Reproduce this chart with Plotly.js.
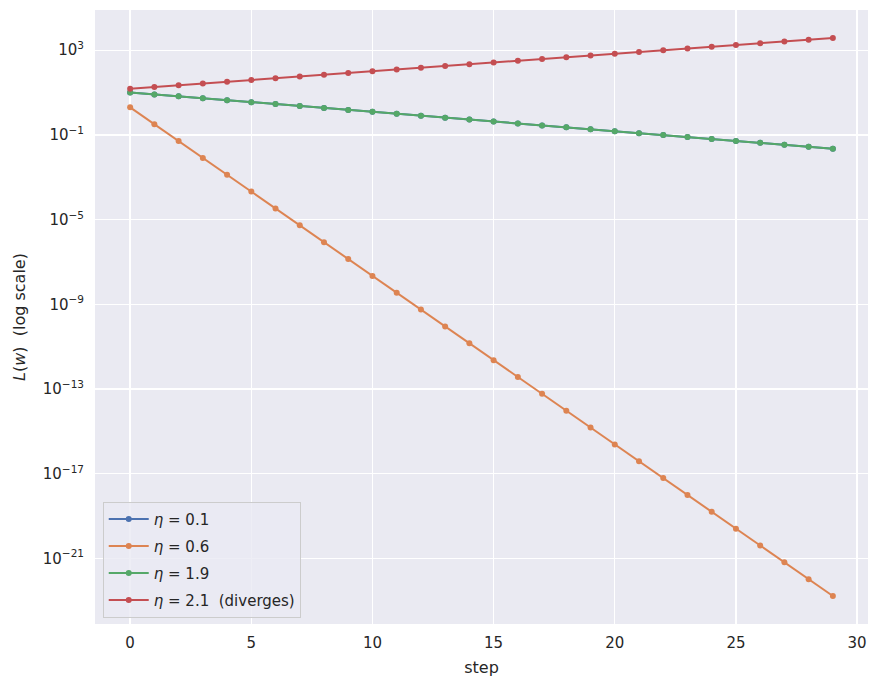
<!DOCTYPE html>
<html>
<head>
<meta charset="utf-8">
<script src="https://cdn.plot.ly/plotly-3.0.1.min.js"></script>
<style>html,body{margin:0;padding:0;background:#fff;}#chart{width:878px;height:687px;}</style>
</head>
<body>
<div id="chart"></div>
<script>
const steps = [0,1,2,3,4,5,6,7,8,9,10,11,12,13,14,15,16,17,18,19,20,21,22,23,24,25,26,27,28,29];

const lossEta01 = [10.125, 8.2013, 6.6430, 5.3808, 4.3585, 3.5304, 2.8596, 2.3163, 1.8762, 1.5197,
  1.2310, 0.99708, 0.80764, 0.65418, 0.52989, 0.42921, 0.34766, 0.28160, 0.22810, 0.18476,
  0.14966, 0.12122, 0.098190, 0.079534, 0.064422, 0.052182, 0.042267, 0.034237, 0.027732, 0.022463];

const lossEta06 = [2, 0.32, 0.0512, 0.008192, 0.00131072, 2.0972e-4, 3.3554e-5, 5.3687e-6, 8.5899e-7, 1.3744e-7,
  2.1990e-8, 3.5184e-9, 5.6295e-10, 9.0072e-11, 1.4412e-11, 2.3058e-12, 3.6893e-13, 5.9030e-14, 9.4447e-15, 1.5112e-15,
  2.4179e-16, 3.8686e-17, 6.1897e-18, 9.9035e-19, 1.5846e-19, 2.5353e-20, 4.0565e-21, 6.4904e-22, 1.0385e-22, 1.6615e-23];

const lossEta19 = [10.125, 8.2013, 6.6430, 5.3808, 4.3585, 3.5304, 2.8596, 2.3163, 1.8762, 1.5197,
  1.2310, 0.99708, 0.80764, 0.65418, 0.52989, 0.42921, 0.34766, 0.28160, 0.22810, 0.18476,
  0.14966, 0.12122, 0.098190, 0.079534, 0.064422, 0.052182, 0.042267, 0.034237, 0.027732, 0.022463];

const lossEta21 = [15.125, 18.301, 22.145, 26.795, 32.422, 39.230, 47.469, 57.437, 69.499, 84.094,
  101.75, 123.12, 148.98, 180.26, 218.12, 263.92, 319.35, 386.41, 467.55, 565.74,
  684.55, 828.30, 1002.2, 1212.7, 1467.4, 1775.5, 2148.4, 2599.6, 3145.5, 3806.0];

const seriesNames = ['<i>η</i> = 0.1', '<i>η</i> = 0.6', '<i>η</i> = 1.9', '<i>η</i> = 2.1  (diverges)'];
const seriesColors = ['#4C72B0', '#DD8452', '#55A868', '#C44E52'];
const seriesData = [lossEta01, lossEta06, lossEta19, lossEta21];

const yTickVals = [1e3, 1e-1, 1e-5, 1e-9, 1e-13, 1e-17, 1e-21];
const yTickText = ['10<sup>3</sup>', '10<sup>−1</sup>', '10<sup>−5</sup>', '10<sup>−9</sup>', '10<sup>−13</sup>', '10<sup>−17</sup>', '10<sup>−21</sup>'];
const xTickVals = [0, 5, 10, 15, 20, 25, 30];

const traces = seriesData.map((ys, i) => ({
  x: steps, y: ys, type: 'scatter', mode: 'lines+markers',
  name: seriesNames[i],
  legendgroup: 'g' + i,
  line: {color: seriesColors[i], width: 2},
  marker: {color: seriesColors[i], size: 6},
  hoverinfo: 'skip'
}));

const font = {family: 'DejaVu Sans, sans-serif', size: 15, color: '#262626'};

const layout = {
  width: 878, height: 687,
  margin: {l: 95, r: 10, t: 10, b: 63},
  paper_bgcolor: '#ffffff',
  plot_bgcolor: '#EAEAF2',
  font: font,
  showlegend: true,
  legend: {
    x: 0.01, y: 0.01, xanchor: 'left', yanchor: 'bottom',
    bgcolor: 'rgba(234,234,242,0.8)', bordercolor: '#cccccc', borderwidth: 1,
    font: {family: 'DejaVu Sans, sans-serif', size: 15, color: '#262626'},
    itemwidth: 40, traceorder: 'grouped', tracegroupgap: 4.5
  },
  xaxis: {
    range: [-1.45, 30.45],
    tickvals: xTickVals,
    ticks: '', ticklabelstandoff: 8,
    showgrid: true, gridcolor: '#ffffff', gridwidth: 1.3,
    zeroline: false, showline: false,
    tickfont: font,
    title: {text: 'step', font: {family: 'DejaVu Sans, sans-serif', size: 16, color: '#262626'}, standoff: 10}
  },
  yaxis: {
    type: 'log',
    range: [-24.1, 4.9],
    tickvals: yTickVals, ticktext: yTickText,
    ticks: '', ticklabelstandoff: 10,
    showgrid: true, gridcolor: '#ffffff', gridwidth: 1.3,
    zeroline: false, showline: false,
    tickfont: font,
    title: {text: '<i>L</i>(<i>w</i>)  (log scale)', font: {family: 'DejaVu Sans, sans-serif', size: 16, color: '#262626'}, standoff: 13}
  }
};

Plotly.newPlot('chart', traces, layout, {staticPlot: true, displayModeBar: false});
</script>
</body>
</html>
